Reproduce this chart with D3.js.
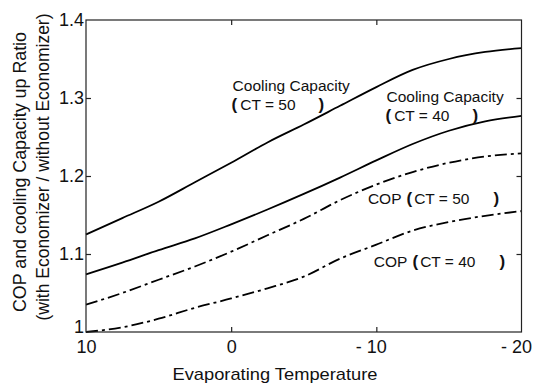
<!DOCTYPE html>
<html>
<head>
<meta charset="utf-8">
<script src="https://cdnjs.cloudflare.com/ajax/libs/d3/7.8.5/d3.min.js"></script>
<style>
body { margin: 0; background: #fff; }
text { font-family: "Liberation Sans", Arial, sans-serif; fill: #111; }
</style>
</head>
<body>
<div id="chart"></div>
<script>
// evaporating temperature (deg C), read every 2.5 deg
var temps   = [10, 7.5, 5, 2.5, 0, -2.5, -5, -7.5, -10, -12.5, -15, -17.5, -20];
var capCT50 = [1.125, 1.146, 1.167, 1.192, 1.217, 1.243, 1.266, 1.290, 1.314, 1.336, 1.350, 1.359, 1.364];
var capCT40 = [1.074, 1.089, 1.105, 1.120, 1.138, 1.157, 1.177, 1.198, 1.220, 1.241, 1.258, 1.270, 1.277];
var copCT50 = [1.035, 1.050, 1.067, 1.084, 1.103, 1.124, 1.145, 1.169, 1.189, 1.205, 1.217, 1.225, 1.229];
var copCT40 = [1.000, 1.006, 1.017, 1.031, 1.043, 1.056, 1.071, 1.094, 1.112, 1.130, 1.141, 1.149, 1.155];

var xTicks = [10, 0, -10, -20];
var yTicks = [1, 1.1, 1.2, 1.3, 1.4];
var xTitle = "Evaporating Temperature";
var yTitle = ["COP and cooling Capacity up Ratio", "(with Economizer / without Economizer)"];

// curve notes, anchored in data units (temperature, ratio)
var noteHeads = ["Cooling Capacity", "Cooling Capacity", "COP", "COP"];
var noteCT    = [50, 40, 50, 40];
var noteT     = [-0.1, -10.7, -9.42, -9.83];
var noteV     = [1.309, 1.2953, 1.164, 1.0837];

var W = 542, H = 383,
    margin = {top: 20, right: 20.5, bottom: 51, left: 86};

var svg = d3.select("#chart")
    .append("svg")
    .attr("width", W)
    .attr("height", H)
    .style("background", "#fff");

var x = d3.scaleLinear().domain([10, -20]).range([margin.left, W - margin.right]);
var y = d3.scaleLinear().domain([1, 1.4]).range([H - margin.bottom, margin.top]);

var series = [
    {values: capCT50, dash: null},
    {values: capCT40, dash: null},
    {values: copCT50, dash: "12,4,3,4"},
    {values: copCT40, dash: "12,4,3,4"}
];

var line = d3.line()
    .x(function(d) { return x(d[0]); })
    .y(function(d) { return y(d[1]); })
    .curve(d3.curveMonotoneX);

series.forEach(function(s) {
    var pts = temps.map(function(t, i) { return [t, s.values[i]]; });
    svg.append("path")
        .datum(pts)
        .attr("d", line)
        .attr("fill", "none")
        .attr("stroke", "#000")
        .attr("stroke-width", 1.8)
        .attr("stroke-dasharray", s.dash);
});

// axes: ticks point inward on all four sides
function styleAxis(g) {
    g.select(".domain").remove();
    g.selectAll(".tick line").attr("stroke", "#222").attr("stroke-width", 1.2);
    g.selectAll(".tick text")
        .style("font-family", "\"Liberation Sans\", Arial, sans-serif")
        .style("font-size", "18px")
        .attr("fill", "#111");
}

var innerX = xTicks.filter(function(d) { return d !== 10 && d !== -20; });
var innerY = yTicks.filter(function(d) { return d !== 1 && d !== 1.4; });

var bottom = svg.append("g")
    .attr("transform", "translate(0," + (H - margin.bottom) + ")")
    .call(d3.axisBottom(x).tickValues(xTicks).tickSize(-5).tickPadding(8)
        .tickFormat(function(d) { return d < 0 ? "- " + (-d) : d; }))
    .call(styleAxis);
bottom.selectAll(".tick line").filter(function(d) { return innerX.indexOf(d) < 0; }).remove();
// keep the digits centred on the tick, the minus hangs to the left
bottom.selectAll(".tick text").each(function(d) {
    if (d >= 0) return;
    var full = this.getComputedTextLength();
    var el = d3.select(this);
    el.text(String(-d));
    var num = this.getComputedTextLength();
    el.text("- " + (-d)).attr("dx", -(full - num) / 2);
});

var left = svg.append("g")
    .attr("transform", "translate(" + margin.left + ",0)")
    .call(d3.axisLeft(y).tickValues(yTicks).tickSize(-5).tickPadding(2)
        .tickFormat(function(d) { return d3.format("")(+d.toFixed(1)); }))
    .call(styleAxis);
left.selectAll(".tick line").filter(function(d) { return innerY.indexOf(d) < 0; }).remove();
// the bottom "1" sits a little above its line so it clears the "10" below
left.selectAll(".tick text").filter(function(d) { return d === 1; }).attr("dy", "0.05em");

svg.append("g")
    .attr("transform", "translate(0," + margin.top + ")")
    .call(d3.axisTop(x).tickValues(innerX).tickSize(-5).tickFormat(""))
    .call(styleAxis);

svg.append("g")
    .attr("transform", "translate(" + (W - margin.right) + ",0)")
    .call(d3.axisRight(y).tickValues(innerY).tickSize(-5).tickFormat(""))
    .call(styleAxis);

svg.append("rect")
    .attr("x", margin.left)
    .attr("y", margin.top)
    .attr("width", W - margin.left - margin.right)
    .attr("height", H - margin.top - margin.bottom)
    .attr("fill", "none")
    .attr("stroke", "#222")
    .attr("stroke-width", 1.2);

// titles
svg.append("text")
    .attr("x", 275)
    .attr("y", 380)
    .attr("text-anchor", "middle")
    .attr("font-size", 17)
    .attr("textLength", 205)
    .attr("lengthAdjust", "spacingAndGlyphs")
    .text(xTitle);

var yPos = [{bx: 25.5, cy: 172, len: 280}, {bx: 48.5, cy: 167, len: 307}];
yTitle.forEach(function(t, i) {
    svg.append("text")
        .attr("transform", "translate(" + yPos[i].bx + "," + yPos[i].cy + ") rotate(-90)")
        .attr("text-anchor", "middle")
        .attr("font-size", 17.5)
        .attr("textLength", yPos[i].len)
        .attr("lengthAdjust", "spacingAndGlyphs")
        .text(t);
});

// curve notes
function ctPart(txt, ct, gapBefore, gapIn, gapOut) {
    txt.append("tspan").attr("dx", gapBefore).attr("font-weight", "bold").attr("font-size", 17).text("(");
    txt.append("tspan").attr("dx", gapIn).text("CT = " + ct);
    txt.append("tspan").attr("dx", gapOut).attr("font-weight", "bold").attr("font-size", 17).text(")");
}

noteHeads.forEach(function(h, i) {
    var px = x(noteT[i]), py = y(noteV[i]);
    var t1 = svg.append("text")
        .attr("x", px)
        .attr("y", py)
        .attr("font-size", 15.5);
    if (h === "COP") {
        t1.append("tspan").text(h);
        ctPart(t1, noteCT[i], 5, 2, 24);
    } else {
        t1.text(h);
        var t2 = svg.append("text")
            .attr("x", px - 1)
            .attr("y", py + 19)
            .attr("font-size", 15.5);
        ctPart(t2, noteCT[i], 0, 3, 23);
    }
});
</script>
</body>
</html>
